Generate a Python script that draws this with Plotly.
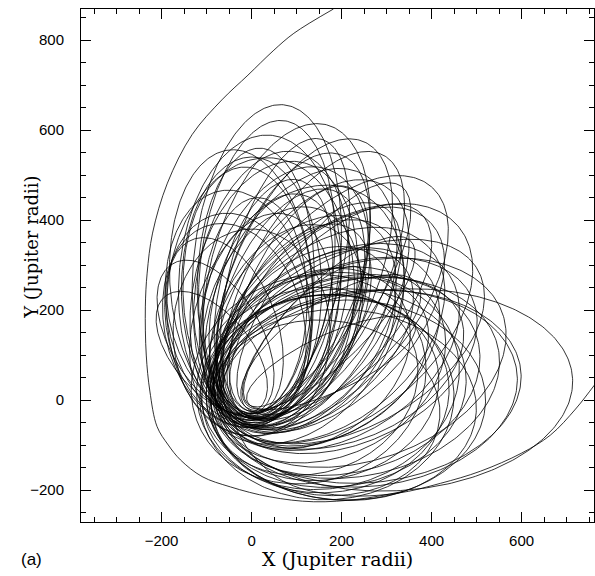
import numpy as np
import plotly.graph_objects as go

# ---- data ----
# incoming arc (Jupiter radii)
entry_x = [182, 94, 48, -8, -66, -132, -187, -220, -232, -236, -234, -226, -210, -185, -158, -110, -47, 40, 138, 240, 337]
entry_y = [869, 815, 776, 722, 667, 590, 482, 371, 282, 207, 100, 20, -59, -100, -133, -170, -193, -215, -226, -220, -203]

# outgoing arc
exit_x = [-40, 0, 80, 200, 324, 420, 509, 600, 664, 720, 761, 790]
exit_y = [-50, -120, -185, -212, -207, -185, -158, -118, -78, -20, 32, 70]

# captured loops: direction of apocentre (deg), apocentre and pericentre distance (RJ)
loop_apo_angle = [95, 92, 98, 88, 100,
                  83.7, 83.4, 80, 78, 86, 76,
                  74.6, 70, 72, 68, 66.5, 64,
                  61.7, 58, 55, 50, 52, 60,
                  45, 40, 30, 42, 35,
                  19, 25, 22, 15, 28,
                  6.4, 5.8, 0, 12, 8, -3,
                  4,
                  10, 18, 25, 5, 35, -6, 103, 48, 65, 80, 40, 70, 90, 32, 56,
                  14, 2, 20, 62, 85,
                  120, 110, 130, 45, 35, 55, 75, 88, 65, 90, 78, 48,
                  25, 50]
loop_apo_dist = [558, 518, 470, 450, 420,
                 660, 625, 560, 500, 590, 470,
                 634, 580, 540, 500, 626, 560,
                 618, 560, 520, 620, 480, 440,
                 560, 520, 580, 450, 480,
                 590, 540, 500, 520, 430,
                 602, 593, 520, 560, 480, 500,
                 715,
                 420, 380, 460, 440, 400, 420, 400, 420, 420, 420, 600, 450, 380, 520, 470,
                 470, 450, 400, 520, 540,
                 350, 380, 300, 500, 450, 580, 600, 560, 520, 540, 540, 560,
                 400, 380]
loop_peri_dist = [45, 40, 55, 30, 60,
                  40, 35, 50, 30, 55, 40,
                  45, 35, 55, 40, 40, 60,
                  35, 50, 35, 50, 55, 40,
                  55, 70, 60, 50, 75,
                  80, 70, 60, 90, 65,
                  75, 80, 95, 85, 100, 90,
                  70,
                  100, 110, 90, 110, 80, 90, 60, 60, 55, 50, 70, 60, 80, 75, 65,
                  120, 115, 130, 90, 80,
                  30, 35, 25, 15, 20, 20, 25, 30, 25, 45, 60, 35,
                  10, 12]

x_ticks = [-200, 0, 200, 400, 600]
x_ticktext = ["\u2212200", "0", "200", "400", "600"]
y_ticks = [-200, 0, 200, 400, 600, 800]
y_ticktext = ["\u2212200", "0", "200", "400", "600", "800"]

# ---- build loop curves ----
lx, ly = [], []
E = np.linspace(0, 2 * np.pi, 300)
for ang, Q, q in zip(loop_apo_angle, loop_apo_dist, loop_peri_dist):
    a = (Q + q) / 2.0
    e = (Q - q) / (Q + q)
    b = a * np.sqrt(1 - e * e)
    xp = a * (np.cos(E) - e)
    yp = b * np.sin(E)
    phi = np.radians(ang + 180)
    lx += list(xp * np.cos(phi) - yp * np.sin(phi)) + [None]
    ly += list(xp * np.sin(phi) + yp * np.cos(phi)) + [None]

fig = go.Figure()
lw = 0.8
fig.add_trace(go.Scatter(x=lx, y=ly, mode="lines", line=dict(color="black", width=lw), hoverinfo="skip"))
fig.add_trace(go.Scatter(x=entry_x, y=entry_y, mode="lines",
                         line=dict(color="black", width=lw, shape="spline", smoothing=1.0), hoverinfo="skip"))
fig.add_trace(go.Scatter(x=exit_x, y=exit_y, mode="lines",
                         line=dict(color="black", width=lw, shape="spline", smoothing=1.0), hoverinfo="skip"))

axis_common = dict(
    showgrid=False, zeroline=False, showline=True, linecolor="black", linewidth=1,
    mirror="ticks", ticks="inside", ticklen=10, tickcolor="black", tickwidth=1,
    minor=dict(ticks="inside", ticklen=5, dtick=50, tickcolor="black", tickwidth=1),
    tickfont=dict(family="Liberation Sans", size=15, color="black"),
)
fig.update_xaxes(range=[-379, 761], tickvals=x_ticks, ticktext=x_ticktext,
                 ticklabelstandoff=5, **axis_common)
fig.update_yaxes(range=[-271, 869], tickvals=y_ticks, ticktext=y_ticktext,
                 ticklabelstandoff=13, **axis_common)

fig.update_layout(
    width=595, height=576,
    margin=dict(l=81, r=1, t=9, b=54, autoexpand=False),
    paper_bgcolor="white", plot_bgcolor="white",
    showlegend=False,
    annotations=[
        dict(text="X (Jupiter radii)", xref="paper", yref="paper", x=0.5, y=-0.072,
             xanchor="center", yanchor="middle", showarrow=False,
             font=dict(family="DejaVu Serif", size=19, color="black")),
        dict(text="Y (Jupiter radii)", xref="paper", yref="paper", x=-0.098, y=0.536,
             xanchor="center", yanchor="middle", showarrow=False, textangle=-90,
             font=dict(family="DejaVu Serif", size=18, color="black")),
        dict(text="(a)", xref="paper", yref="paper", x=-0.097, y=-0.074,
             xanchor="center", yanchor="middle", showarrow=False,
             font=dict(family="Liberation Sans", size=17, color="black")),
    ],
)
fig.write_html("out.html", config={"displayModeBar": False},
               post_script="document.body.style.margin='0px';")
